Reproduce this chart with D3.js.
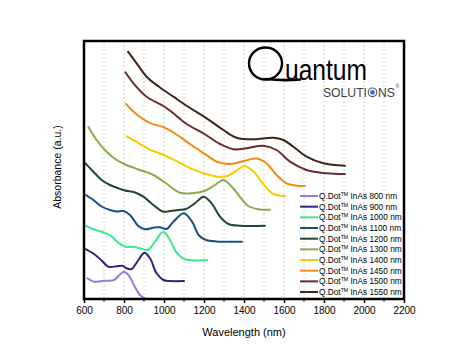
<!DOCTYPE html>
<html>
<head>
<meta charset="utf-8">
<script src="https://cdn.jsdelivr.net/npm/d3@7"></script>
<style>
  body { margin: 0; background: #fff; }
  svg { display: block; }
  text { font-family: "Liberation Sans", Arial, sans-serif; fill: #000; }
</style>
</head>
<body>
<div id="chart"></div>
<script>
// ── Data (absorbance in arbitrary, offset units) ────────────────────────────
const seriesNames = ['800', '900', '1000', '1100', '1200', '1300', '1400', '1450', '1500', '1550'];
const seriesColors = ['#8a80e0', '#2c2577', '#3ee88d', '#1b4d89', '#1d4634',
                      '#8aab4b', '#f5cd00', '#f58a13', '#6e2a2a', '#3b2617'];

const qd800 = [[617,0.207],[650,0.173],[700,0.183],[750,0.19],[775,0.235],[800,0.273],[822,0.24],
  [855,0.12],[880,0.04],[905,0.005],[950,0],[1022,0]];
const qd900 = [[600,0.507],[647,0.455],[688,0.385],[722,0.323],[763,0.327],[790,0.333],[813,0.307],
  [838,0.30],[872,0.39],[902,0.463],[930,0.407],[963,0.257],[997,0.19],[1030,0.18],[1100,0.18]];
const qd1000 = [[608,0.733],[647,0.697],[688,0.673],[730,0.64],[772,0.563],[813,0.52],[847,0.523],
  [880,0.507],[918,0.49],[955,0.573],[997,0.673],[1030,0.59],[1063,0.465],[1105,0.397],[1215,0.39]];
const qd1100 = [[600,1.05],[647,0.99],[688,0.925],[730,0.89],[763,0.875],[797,0.88],[830,0.84],
  [872,0.73],[905,0.697],[947,0.713],[980,0.717],[1012,0.70],[1047,0.773],[1099,0.857],[1140,0.773],
  [1175,0.635],[1210,0.59],[1263,0.575],[1390,0.573]];
const qd1200 = [[600,1.37],[647,1.273],[688,1.19],[730,1.14],[772,1.107],[805,1.085],[855,1.065],
  [897,1.023],[947,0.94],[997,0.873],[1030,0.88],[1072,0.89],[1110,0.9],[1155,0.957],[1198,1.023],
  [1238,0.957],[1280,0.823],[1322,0.75],[1380,0.733],[1505,0.733]];
const qd1300 = [[622,1.72],[663,1.59],[713,1.473],[763,1.39],[813,1.34],[880,1.29],[947,1.24],
  [1005,1.165],[1080,1.063],[1147,1.06],[1205,1.083],[1255,1.14],[1297,1.19],[1340,1.12],
  [1380,1.02],[1422,0.93],[1472,0.898],[1530,0.893]];
const qd1400 = [[813,1.627],[867,1.567],[933,1.49],[1000,1.44],[1067,1.373],[1133,1.307],[1200,1.257],
  [1267,1.223],[1317,1.23],[1367,1.29],[1402,1.33],[1450,1.27],[1500,1.14],[1547,1.05],[1605,1.03]];
const qd1450 = [[810,1.95],[867,1.84],[933,1.757],[1000,1.717],[1067,1.64],[1133,1.545],[1200,1.457],
  [1267,1.37],[1333,1.35],[1400,1.38],[1462,1.405],[1510,1.36],[1563,1.24],[1613,1.157],
  [1663,1.133],[1705,1.13]];
const qd1500 = [[807,2.267],[847,2.157],[913,2.023],[997,1.93],[1047,1.857],[1113,1.75],[1197,1.657],
  [1280,1.55],[1347,1.497],[1413,1.507],[1497,1.533],[1563,1.49],[1630,1.373],[1713,1.29],
  [1813,1.257],[1905,1.25]];
const qd1550 = [[820,2.473],[863,2.357],[913,2.223],[980,2.115],[1047,2.023],[1130,1.91],[1213,1.807],
  [1297,1.69],[1363,1.613],[1447,1.597],[1547,1.613],[1597,1.59],[1647,1.523],[1713,1.423],
  [1797,1.357],[1905,1.333]];

const seriesValues = [qd800, qd900, qd1000, qd1100, qd1200, qd1300, qd1400, qd1450, qd1500, qd1550];
const xTickValues = [600, 800, 1000, 1200, 1400, 1600, 1800, 2000, 2200];

// ── Layout ──────────────────────────────────────────────────────────────────
const W = 470, H = 360;
const L = 84, R = 404, T = 41, B = 299;

const svg = d3.select('#chart').append('svg').attr('width', W).attr('height', H);

const xScale = d3.scaleLinear().domain([600, 2200]).range([L, R]);
const yScale = d3.scaleLinear().domain([0, 2.58]).range([B, T]);

// Dashed vertical grid every 100 nm
svg.append('g')
  .selectAll('line')
  .data(d3.range(700, 2200, 100))
  .join('line')
  .attr('x1', d => xScale(d)).attr('x2', d => xScale(d))
  .attr('y1', T).attr('y2', B)
  .attr('stroke', '#c4c4c4')
  .attr('stroke-width', 0.8)
  .attr('stroke-dasharray', '2,2');

// Curves
const line = d3.line()
  .x(d => xScale(d[0]))
  .y(d => yScale(d[1]))
  .curve(d3.curveCatmullRom.alpha(0.5));

svg.append('g')
  .selectAll('path')
  .data(seriesValues)
  .join('path')
  .attr('d', line)
  .attr('fill', 'none')
  .attr('stroke', (d, i) => seriesColors[i])
  .attr('stroke-width', 2)
  .attr('stroke-linejoin', 'round')
  .attr('stroke-linecap', 'round');

// Bottom axis: major + minor ticks pointing out
const xAxis = d3.axisBottom(xScale).tickValues(xTickValues).tickSize(4).tickPadding(4)
  .tickFormat(d3.format('d'));
const gx = svg.append('g').attr('transform', `translate(0,${B})`).call(xAxis);
gx.select('.domain').remove();
gx.selectAll('.tick line').attr('stroke', '#000').attr('stroke-width', 1.5);
gx.selectAll('.tick text').attr('font-size', 10).attr('font-family', '"Liberation Sans", Arial, sans-serif');

svg.append('g')
  .selectAll('line')
  .data(d3.range(700, 2200, 200))
  .join('line')
  .attr('x1', d => xScale(d)).attr('x2', d => xScale(d))
  .attr('y1', B).attr('y2', B + 2.5)
  .attr('stroke', '#000').attr('stroke-width', 1.2);

// Frame
svg.append('rect')
  .attr('x', L).attr('y', T)
  .attr('width', R - L).attr('height', B - T)
  .attr('fill', 'none')
  .attr('stroke', '#000')
  .attr('stroke-width', 2.5);

// Axis titles
svg.append('text')
  .attr('x', (L + R) / 2).attr('y', 336)
  .attr('text-anchor', 'middle')
  .attr('font-size', 11)
  .text('Wavelength (nm)');

svg.append('text')
  .attr('transform', `translate(61,${(T + B) / 2 - 3}) rotate(-90)`)
  .attr('text-anchor', 'middle')
  .attr('font-size', 10.5)
  .text('Absorbance (a.u.)');

// ── Legend ──────────────────────────────────────────────────────────────────
const legend = svg.append('g');
const legItems = legend.selectAll('g')
  .data(seriesNames)
  .join('g')
  .attr('transform', (d, i) => `translate(300,${196 + i * 10.67})`);

legItems.append('line')
  .attr('x1', 0).attr('x2', 18)
  .attr('stroke', (d, i) => seriesColors[i])
  .attr('stroke-width', 2);

const legText = legItems.append('text')
  .attr('x', 19).attr('y', 3)
  .attr('font-size', 8.3);
legText.append('tspan').text('Q.Dot');
legText.append('tspan').attr('font-size', 5.2).attr('dy', -3).text('TM');
legText.append('tspan').attr('dy', 3).text(d => ` InAs ${d} nm`);

// ── Logo ────────────────────────────────────────────────────────────────────
const logo = svg.append('g');
logo.append('ellipse')
  .attr('cx', 265.5).attr('cy', 63.5).attr('rx', 16.5).attr('ry', 16)
  .attr('fill', 'none').attr('stroke', '#000').attr('stroke-width', 2.4);
logo.append('path')
  .attr('d', 'M266,79 Q283,81 300,79.5')
  .attr('fill', 'none').attr('stroke', '#000').attr('stroke-width', 2.6)
  .attr('stroke-linecap', 'round');
logo.append('text')
  .attr('x', 285).attr('y', 80)
  .attr('font-family', '"Open Sans", "Noto Sans", sans-serif')
  .attr('font-size', 29)
  .attr('textLength', 82).attr('lengthAdjust', 'spacingAndGlyphs')
  .text('uantum');

const solFont = '"Open Sans", "Noto Sans", sans-serif';
logo.append('text')
  .attr('x', 323).attr('y', 97)
  .attr('font-family', solFont).attr('font-size', 12.5)
  .attr('textLength', 44).attr('lengthAdjust', 'spacingAndGlyphs')
  .style('fill', '#3d3d3d')
  .text('SOLUTI');
logo.append('circle')
  .attr('cx', 372.5).attr('cy', 92.3).attr('r', 4.3)
  .attr('fill', 'none').attr('stroke', '#555').attr('stroke-width', 1.1);
logo.append('circle')
  .attr('cx', 372.5).attr('cy', 92.3).attr('r', 2.4)
  .attr('fill', '#2f6ff0');
logo.append('text')
  .attr('x', 378).attr('y', 97)
  .attr('font-family', solFont).attr('font-size', 12.5)
  .attr('textLength', 17).attr('lengthAdjust', 'spacingAndGlyphs')
  .style('fill', '#3d3d3d')
  .text('NS');
logo.append('text')
  .attr('x', 395.5).attr('y', 88)
  .attr('font-family', solFont).attr('font-size', 5)
  .style('fill', '#3d3d3d')
  .text('®');
</script>
</body>
</html>
